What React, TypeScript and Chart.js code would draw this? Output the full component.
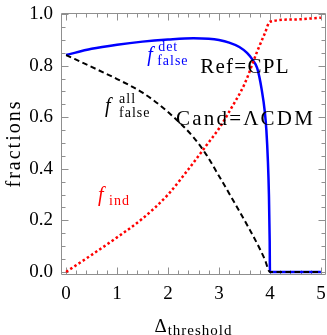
import { useEffect, useRef } from "react";
import { Chart, registerables } from "chart.js";

Chart.register(...registerables);

// f_false^det (blue, solid)
const detX = [0, 0.5, 1, 1.5, 2, 2.5, 2.8, 3, 3.2, 3.4, 3.55, 3.65, 3.75, 3.84, 3.9, 3.93, 3.96, 3.98, 3.995, 4.0, 4.5, 5];
const detY = [0.841, 0.865, 0.881, 0.893, 0.901, 0.906, 0.904, 0.899, 0.889, 0.872, 0.849, 0.825, 0.79, 0.705, 0.62, 0.55, 0.43, 0.3, 0.12, 0.0, 0.0, 0.0];

// f_false^all (black, dashed)
const allX = [0, 0.5, 1, 1.5, 2, 2.5, 2.75, 3, 3.3, 3.6, 3.8, 3.9, 4.0, 4.5, 5];
const allY = [0.841, 0.795, 0.748, 0.695, 0.62, 0.522, 0.455, 0.372, 0.27, 0.165, 0.09, 0.048, 0.0, 0.0, 0.0];

// f_ind (red, dotted)
const indX = [0, 0.5, 1, 1.5, 2, 2.5, 2.75, 3, 3.25, 3.5, 3.75, 3.9, 4.0, 4.5, 5];
const indY = [0, 0.066, 0.134, 0.207, 0.3, 0.424, 0.49, 0.556, 0.638, 0.728, 0.855, 0.925, 0.97, 0.979, 0.986];

const xTickValues = [0, 1, 2, 3, 4, 5];
const yTickValues = [0, 0.2, 0.4, 0.6, 0.8, 1.0];

const toPoints = (xs: number[], ys: number[]) => xs.map((x, i) => ({ x, y: ys[i] }));

const SERIF = "'Liberation Serif', 'Times New Roman', serif";

function drawText(
  ctx: CanvasRenderingContext2D,
  text: string,
  x: number,
  y: number,
  font: string,
  color: string,
  spacing = 0
) {
  ctx.save();
  ctx.font = font;
  ctx.fillStyle = color;
  ctx.textAlign = "left";
  ctx.textBaseline = "alphabetic";
  (ctx as any).letterSpacing = spacing + "px";
  ctx.fillText(text, x, y);
  ctx.restore();
}

function measure(ctx: CanvasRenderingContext2D, text: string, font: string, spacing = 0) {
  ctx.save();
  ctx.font = font;
  (ctx as any).letterSpacing = spacing + "px";
  const w = ctx.measureText(text).width;
  ctx.restore();
  return w;
}

export default function App() {
  const ref = useRef<HTMLCanvasElement>(null);

  useEffect(() => {
    document.body.style.margin = "0";
    const canvas = ref.current!;
    const frameColor = "#8f8f8f";

    const framePlugin = {
      id: "mmaFrame",
      beforeDatasetsDraw(chart: any) {
        const { ctx, chartArea: a, scales } = chart;
        const xs = scales.x;
        const ys = scales.y;
        const L = Math.round(a.left) + 0.5;
        const R = Math.round(a.right) - 0.5;
        const T = Math.round(a.top) + 0.5;
        const B = Math.round(a.bottom) + 0.5;
        ctx.save();
        ctx.strokeStyle = frameColor;
        ctx.lineWidth = 1;
        ctx.beginPath();
        ctx.rect(L, T, R - L, B - T);
        // x ticks (major every 1, minor every 0.2)
        for (let i = 0; i <= 25; i++) {
          const v = i * 0.2;
          const major = i % 5 === 0;
          const len = major ? 7 : 4;
          const px = Math.round(xs.getPixelForValue(v)) + 0.5;
          ctx.moveTo(px, B);
          ctx.lineTo(px, B - len);
          ctx.moveTo(px, T);
          ctx.lineTo(px, T + len);
        }
        // y ticks (major every 0.2, minor every 0.05)
        for (let i = 0; i <= 20; i++) {
          const v = i * 0.05;
          const major = i % 4 === 0;
          const len = major ? 7 : 4;
          const py = Math.round(ys.getPixelForValue(v)) + 0.5;
          ctx.moveTo(L, py);
          ctx.lineTo(L + len, py);
          ctx.moveTo(R, py);
          ctx.lineTo(R - len, py);
        }
        ctx.stroke();
        ctx.restore();
      },
      afterDraw(chart: any) {
        const { ctx, chartArea: a, scales } = chart;
        const xs = scales.x;
        const ys = scales.y;
        const P = (x: number, y: number) => [xs.getPixelForValue(x), ys.getPixelForValue(y)];

        const fFont = `italic 20px ${SERIF}`;
        const subFont = `14px ${SERIF}`;
        const bigFont = `21px ${SERIF}`;

        // f_false^det
        {
          const [x, y] = P(1.59, 0.818);
          drawText(ctx, "f", x, y, fFont, "#0000ff");
          drawText(ctx, "det", x + 11, y - 10, subFont, "#0000ff", 1);
          drawText(ctx, "false", x + 10, y + 4, subFont, "#0000ff", 1);
        }
        // f_false^all
        {
          const [x, y] = P(0.765, 0.62);
          drawText(ctx, "f", x, y, fFont, "#000000");
          drawText(ctx, "all", x + 14, y - 9, subFont, "#000000", 1);
          drawText(ctx, "false", x + 14, y + 4.5, subFont, "#000000", 1);
        }
        // f_ind
        {
          const [x, y] = P(0.627, 0.275);
          drawText(ctx, "f", x, y, fFont, "#ff0000");
          drawText(ctx, "ind", x + 11, y + 4, subFont, "#ff0000", 1);
        }
        // Ref / Cand
        {
          const [x1, y1] = P(2.63, 0.771);
          drawText(ctx, "Ref=CPL", x1, y1, bigFont, "#000000", 1.3);
          const [x2, y2] = P(2.157, 0.57);
          drawText(ctx, "Cand=\u039BCDM", x2, y2, bigFont, "#000000", 2.2);
        }
        // x axis title: Δ_threshold
        {
          const dFont = `19px ${SERIF}`;
          const tFont = `15px ${SERIF}`;
          const wD = measure(ctx, "\u0394", dFont);
          const wT = measure(ctx, "threshold", tFont, 1);
          const cx = (a.left + a.right) / 2;
          const x0 = cx - (wD + 1 + wT) / 2;
          drawText(ctx, "\u0394", x0, 332, dFont, "#000000");
          drawText(ctx, "threshold", x0 + wD + 1, 334.5, tFont, "#000000", 1);
        }
        // y axis title
        {
          const font = `20px ${SERIF}`;
          const w = measure(ctx, "fractions", font, 2);
          const cy = (a.top + a.bottom) / 2;
          ctx.save();
          ctx.translate(20, cy);
          ctx.rotate(-Math.PI / 2);
          drawText(ctx, "fractions", -w / 2, 0, font, "#000000", 2);
          ctx.restore();
        }
      },
    };

    const lineCommon = {
      showLine: true,
      pointRadius: 0,
      cubicInterpolationMode: "monotone" as const,
    };

    const chart = new Chart(canvas, {
      type: "scatter",
      data: {
        datasets: [
          {
            ...lineCommon,
            label: "f_ind",
            data: toPoints(indX, indY),
            borderColor: "#ff0000",
            borderWidth: 2.5,
            borderDash: [2.5, 2.5],
            borderCapStyle: "butt",
          },
          {
            ...lineCommon,
            label: "f_false^all",
            data: toPoints(allX, allY),
            borderColor: "#000000",
            borderWidth: 2,
            borderDash: [5.5, 3.5],
          },
          {
            ...lineCommon,
            label: "f_false^det",
            data: toPoints(detX, detY),
            borderColor: "#0000ff",
            borderWidth: 2.5,
          },
        ],
      },
      options: {
        responsive: false,
        animation: false,
        devicePixelRatio: 1,
        layout: { padding: { top: 13, right: 1, left: 0, bottom: 0 } },
        plugins: { legend: { display: false }, tooltip: { enabled: false } },
        scales: {
          x: {
            type: "linear",
            min: -0.1,
            max: 5.1,
            grid: { display: false, drawTicks: false },
            border: { display: false },
            afterBuildTicks: (s: any) => {
              s.ticks = xTickValues.map((v) => ({ value: v }));
            },
            afterFit: (s: any) => {
              s.height = 61;
              s.paddingLeft = 0;
              s.paddingRight = 0;
            },
            ticks: {
              color: "#000000",
              font: { family: SERIF, size: 19 },
              padding: 9,
              maxRotation: 0,
              autoSkip: false,
              callback: (v: any) => String(v),
            },
          },
          y: {
            type: "linear",
            min: -0.008,
            max: 1.004,
            grid: { display: false, drawTicks: false },
            border: { display: false },
            afterBuildTicks: (s: any) => {
              s.ticks = yTickValues.map((v) => ({ value: v }));
            },
            afterFit: (s: any) => {
              s.width = 61;
              s.paddingTop = 0;
              s.paddingBottom = 0;
            },
            ticks: {
              color: "#000000",
              font: { family: SERIF, size: 19 },
              padding: 8,
              autoSkip: false,
              callback: (v: any) => Number(v).toFixed(1),
            },
          },
        },
      },
      plugins: [framePlugin],
    });

    return () => chart.destroy();
  }, []);

  return <canvas ref={ref} width={327} height={335} style={{ display: "block", width: 327, height: 335 }} />;
}
